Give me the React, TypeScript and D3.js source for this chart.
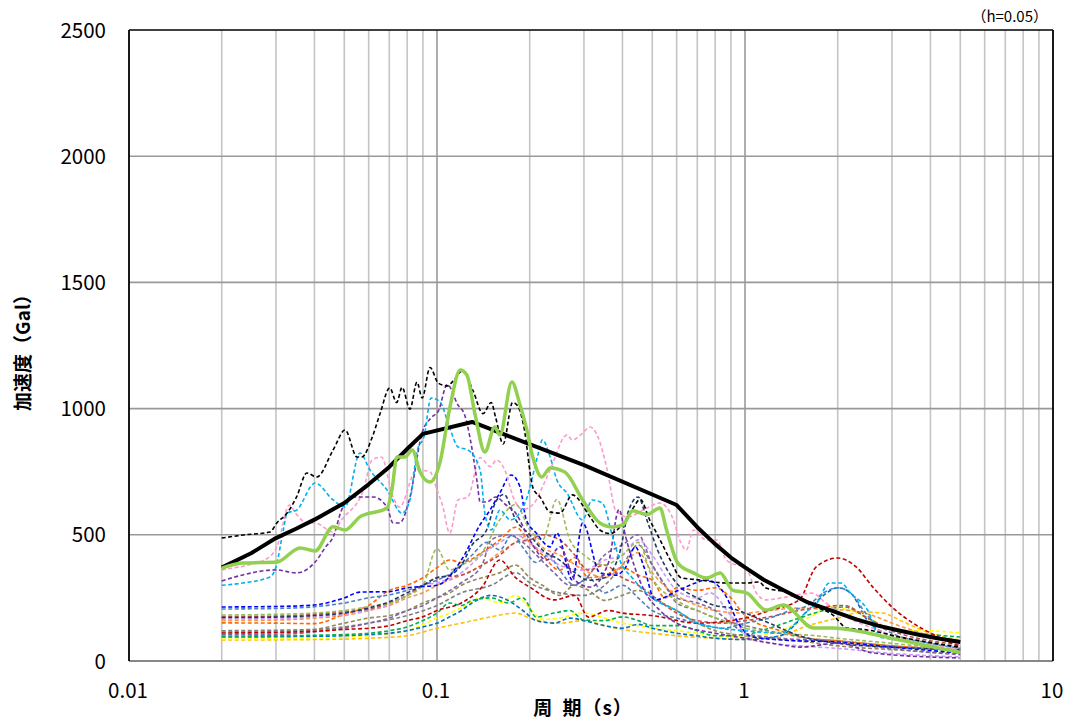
import React from 'react';
import * as d3 from 'd3';

type P = [number, number];

const X_TICKS = [0.01, 0.1, 1, 10];
const X_TICK_LABELS = ['0.01', '0.1', '1', '10'];
const Y_TICKS = [0, 500, 1000, 1500, 2000, 2500];
const X_TITLE = '周 期（s）';
const Y_TITLE = '加速度（Gal）';
const NOTE = '（h=0.05）';

// design spectrum (thick black)
const DESIGN: P[] = [
  [0.02, 370], [0.025, 428], [0.03, 487], [0.035, 525], [0.04, 560], [0.05, 626], [0.06, 700],
  [0.07, 769], [0.08, 840], [0.09, 900], [0.13, 947], [0.3, 776], [0.6, 618], [0.7, 530],
  [0.8, 463], [0.9, 410], [1.0, 371], [1.15, 322], [1.33, 281], [1.6, 232], [1.93, 198],
  [2.3, 165], [2.7, 140], [3.19, 120], [3.7, 103], [4.3, 88], [5.0, 75],
];

// thick green
const GREEN: P[] = [
  [0.02, 368], [0.0234, 388], [0.0302, 392], [0.0359, 448], [0.0402, 436], [0.046, 532],
  [0.0503, 519], [0.0562, 571], [0.0688, 606], [0.0714, 678], [0.0741, 808], [0.0787, 808],
  [0.0831, 836], [0.0881, 749], [0.0949, 709], [0.1023, 788], [0.11, 1002], [0.119, 1153],
  [0.125, 1133], [0.133, 975], [0.143, 828], [0.154, 927], [0.16, 895], [0.175, 1105],
  [0.186, 1014], [0.195, 923], [0.205, 804], [0.219, 729], [0.233, 765], [0.26, 749],
  [0.297, 638], [0.338, 547], [0.372, 531], [0.401, 539], [0.432, 595], [0.479, 580],
  [0.53, 606], [0.556, 520], [0.605, 388], [0.68, 349], [0.75, 329], [0.831, 349],
  [0.91, 281], [1.015, 269], [1.17, 202], [1.33, 222], [1.67, 131], [1.93, 131],
  [2.5, 111], [3.18, 83], [4.97, 35],
];

const BLACK_DASH: P[] = [
  [0.02, 487], [0.0234, 499], [0.0287, 511], [0.0302, 547], [0.0326, 586], [0.035, 650],
  [0.0378, 745], [0.0407, 729], [0.046, 836], [0.0503, 915], [0.055, 808], [0.057, 808],
  [0.0615, 884], [0.0654, 982], [0.0702, 1082], [0.074, 1024], [0.077, 1084], [0.0817, 998],
  [0.0861, 1105], [0.0895, 1042], [0.0949, 1163], [0.101, 1101], [0.108, 1090], [0.113, 1110],
  [0.121, 1150], [0.131, 1070], [0.141, 980], [0.15, 1024], [0.155, 965], [0.164, 860],
  [0.176, 1024], [0.183, 1010], [0.191, 935], [0.205, 686], [0.216, 650], [0.233, 590],
  [0.251, 586], [0.275, 658], [0.314, 571], [0.338, 519], [0.365, 505], [0.399, 540],
  [0.43, 600], [0.457, 640], [0.49, 560], [0.53, 480], [0.572, 400], [0.62, 330],
  [0.715, 321], [0.87, 309], [1.015, 309], [1.11, 313], [1.17, 289], [1.37, 273],
  [1.71, 214], [1.93, 182], [2.14, 131], [2.5, 123], [3.18, 95], [4.1, 71], [4.97, 55],
];

const CYAN: P[] = [
  [0.02, 300], [0.0234, 309], [0.0287, 333], [0.03, 372], [0.0317, 519], [0.0326, 586],
  [0.035, 598], [0.0402, 705], [0.046, 638], [0.0503, 610], [0.0562, 824], [0.0606, 757],
  [0.0688, 678], [0.077, 586], [0.0817, 638], [0.0861, 828], [0.091, 895], [0.0956, 1042],
  [0.1023, 1026], [0.11, 923], [0.117, 848], [0.126, 836], [0.138, 757], [0.143, 586],
  [0.15, 519], [0.16, 598], [0.173, 559], [0.195, 640], [0.213, 820], [0.22, 876],
  [0.233, 808], [0.245, 717], [0.264, 666], [0.297, 559], [0.319, 638], [0.344, 626],
  [0.372, 491], [0.392, 400], [0.43, 330], [0.5, 250], [0.6, 200], [0.7, 150], [0.83, 130],
  [1.0, 120], [1.3, 110], [1.6, 200], [1.71, 230], [1.88, 309], [2.05, 309], [2.2, 269],
  [2.5, 202], [2.74, 95], [3.18, 83], [4.1, 55], [4.97, 36],
];

const PURPLE: P[] = [
  [0.02, 317], [0.0234, 341], [0.03, 361], [0.035, 349], [0.0402, 392], [0.0435, 452],
  [0.046, 491], [0.049, 598], [0.0527, 650], [0.062, 650], [0.0688, 610], [0.072, 547],
  [0.0756, 547], [0.0817, 650], [0.0895, 905], [0.096, 965], [0.101, 990], [0.108, 1095],
  [0.117, 1014], [0.123, 975], [0.128, 884], [0.135, 709], [0.138, 630], [0.145, 630],
  [0.155, 650], [0.167, 620], [0.18, 586], [0.2, 480], [0.227, 400], [0.251, 452],
  [0.28, 321], [0.314, 293], [0.36, 388], [0.39, 600], [0.41, 491], [0.47, 281],
  [0.53, 200], [0.6, 150], [0.8, 110], [1.0, 90], [1.3, 65], [1.51, 55], [2.03, 71],
  [2.6, 32], [4.97, 12],
];

const PINK: P[] = [
  [0.02, 362], [0.025, 384], [0.028, 405], [0.0302, 452], [0.0332, 618], [0.0347, 586],
  [0.0378, 547], [0.0402, 547], [0.046, 511], [0.049, 559], [0.0577, 678], [0.0615, 796],
  [0.066, 808], [0.072, 650], [0.0756, 610], [0.0858, 757], [0.0949, 749], [0.1, 678],
  [0.104, 620], [0.11, 507], [0.117, 638], [0.126, 650], [0.138, 806], [0.149, 770],
  [0.156, 796], [0.166, 757], [0.178, 640], [0.19, 600], [0.207, 626], [0.22, 690],
  [0.233, 757], [0.264, 895], [0.275, 876], [0.297, 903], [0.314, 927], [0.333, 888],
  [0.357, 757], [0.38, 598], [0.415, 571], [0.479, 606], [0.53, 626], [0.58, 571],
  [0.62, 467], [0.645, 440], [0.68, 519], [0.75, 479], [0.81, 479], [0.87, 400],
  [1.015, 361], [1.09, 269], [1.17, 242], [1.37, 254], [1.65, 269], [1.83, 230],
  [2.03, 190], [2.6, 130], [3.5, 80], [4.97, 44],
];

const BLUE: P[] = [
  [0.02, 214], [0.03, 216], [0.04, 222], [0.05, 250], [0.0562, 273], [0.07, 275], [0.08, 290],
  [0.1, 300], [0.12, 400], [0.138, 540], [0.149, 600], [0.16, 666], [0.174, 737], [0.186, 690],
  [0.195, 559], [0.21, 507], [0.233, 452], [0.245, 507], [0.275, 321], [0.297, 547],
  [0.338, 349], [0.38, 340], [0.41, 372], [0.44, 452], [0.47, 372], [0.51, 242], [0.61, 281],
  [0.69, 309], [0.75, 321], [0.87, 254], [0.95, 151], [1.06, 95], [1.33, 83], [2.0, 75],
  [3.0, 55], [4.97, 32],
];

const STEEL: P[] = [
  [0.02, 206], [0.03, 208], [0.04, 215], [0.05, 230], [0.06, 250], [0.07, 262], [0.08, 280],
  [0.09, 300], [0.1, 320], [0.11, 345], [0.12, 380], [0.13, 420], [0.145, 470], [0.16, 440],
  [0.175, 500], [0.19, 450], [0.21, 390], [0.23, 420], [0.25, 360], [0.28, 300], [0.31, 330],
  [0.35, 270], [0.4, 300], [0.45, 250], [0.5, 200], [0.6, 170], [0.7, 150], [0.85, 130],
  [1.0, 150], [1.2, 170], [1.4, 200], [1.6, 220], [1.8, 270], [2.0, 290], [2.2, 270],
  [2.5, 180], [3.0, 110], [4.0, 70], [5.0, 50],
];

const OLIVE: P[] = [
  [0.02, 182], [0.03, 185], [0.04, 190], [0.05, 200], [0.06, 215], [0.07, 230], [0.08, 260],
  [0.09, 300], [0.1, 445], [0.11, 360], [0.12, 380], [0.14, 430], [0.16, 560], [0.18, 620],
  [0.2, 520], [0.22, 480], [0.245, 640], [0.27, 480], [0.3, 420], [0.35, 380], [0.4, 420],
  [0.45, 470], [0.5, 330], [0.6, 240], [0.7, 200], [0.85, 160], [1.0, 130], [1.3, 110],
  [1.7, 100], [2.0, 90], [3.0, 70], [5.0, 40],
];

const BRICK: P[] = [
  [0.02, 176], [0.03, 178], [0.04, 185], [0.05, 195], [0.06, 205], [0.07, 230], [0.08, 260],
  [0.09, 300], [0.1, 330], [0.12, 340], [0.14, 380], [0.16, 420], [0.18, 470], [0.2, 480],
  [0.22, 500], [0.25, 480], [0.28, 420], [0.31, 360], [0.35, 380], [0.4, 330], [0.45, 300],
  [0.5, 260], [0.6, 190], [0.7, 160], [0.85, 150], [1.0, 160], [1.2, 175], [1.5, 200],
  [1.8, 215], [2.1, 220], [2.5, 170], [3.0, 120], [4.0, 80], [5.0, 65],
];

const NAVY: P[] = [
  [0.02, 172], [0.03, 174], [0.04, 180], [0.05, 190], [0.06, 210], [0.07, 235], [0.08, 270],
  [0.09, 300], [0.1, 330], [0.11, 340], [0.12, 380], [0.13, 460], [0.145, 520], [0.155, 630],
  [0.165, 660], [0.18, 560], [0.2, 500], [0.22, 440], [0.25, 400], [0.28, 350], [0.31, 320],
  [0.35, 330], [0.39, 420], [0.42, 600], [0.45, 650], [0.48, 560], [0.52, 440], [0.56, 360],
  [0.62, 290], [0.7, 250], [0.8, 220], [0.9, 210], [1.0, 190], [1.2, 150], [1.5, 100],
  [2.0, 70], [3.0, 55], [5.0, 44],
];

const LAVENDER: P[] = [
  [0.02, 166], [0.03, 168], [0.04, 175], [0.05, 185], [0.06, 200], [0.07, 225], [0.08, 260],
  [0.09, 300], [0.1, 310], [0.12, 350], [0.14, 420], [0.16, 470], [0.18, 500], [0.2, 470],
  [0.22, 430], [0.25, 380], [0.3, 360], [0.35, 400], [0.4, 420], [0.45, 480], [0.5, 420],
  [0.55, 340], [0.6, 280], [0.7, 250], [0.77, 270], [0.9, 180], [1.06, 83], [1.5, 60],
  [2.0, 50], [3.0, 30], [5.0, 16],
];

const ORANGE: P[] = [
  [0.02, 151], [0.03, 150], [0.04, 148], [0.05, 185], [0.06, 220], [0.07, 280], [0.08, 300],
  [0.09, 330], [0.1, 370], [0.11, 400], [0.12, 390], [0.14, 430], [0.16, 480], [0.18, 530],
  [0.2, 470], [0.22, 420], [0.25, 360], [0.28, 410], [0.31, 330], [0.35, 340], [0.4, 370],
  [0.45, 340], [0.5, 320], [0.55, 250], [0.6, 290], [0.7, 280], [0.8, 290], [0.9, 250],
  [1.0, 180], [1.3, 120], [1.6, 90], [2.0, 80], [3.0, 60], [5.0, 44],
];

const LIGHT_ORANGE: P[] = [
  [0.02, 160], [0.03, 162], [0.04, 170], [0.05, 180], [0.06, 200], [0.07, 220], [0.08, 250],
  [0.09, 270], [0.1, 300], [0.12, 340], [0.14, 380], [0.16, 430], [0.18, 470], [0.2, 500],
  [0.22, 450], [0.25, 420], [0.3, 360], [0.35, 330], [0.4, 380], [0.45, 430], [0.5, 350],
  [0.6, 260], [0.7, 220], [0.8, 200], [1.0, 190], [1.2, 200], [1.5, 210], [1.8, 205],
  [2.2, 200], [2.6, 180], [3.0, 150], [4.0, 100], [5.0, 70],
];

const TAN: P[] = [
  [0.02, 115], [0.03, 117], [0.04, 125], [0.05, 150], [0.06, 170], [0.07, 180], [0.08, 200],
  [0.09, 230], [0.1, 250], [0.11, 270], [0.12, 300], [0.14, 330], [0.16, 350], [0.18, 380],
  [0.2, 330], [0.22, 300], [0.25, 260], [0.28, 300], [0.31, 280], [0.35, 240], [0.4, 260],
  [0.45, 280], [0.5, 250], [0.6, 200], [0.7, 150], [0.8, 120], [1.0, 100], [1.3, 85],
  [1.6, 75], [2.0, 60], [3.0, 45], [5.0, 30],
];

const DARK_RED: P[] = [
  [0.02, 111], [0.03, 113], [0.04, 118], [0.05, 125], [0.06, 130], [0.07, 140], [0.08, 160],
  [0.09, 175], [0.1, 200], [0.12, 230], [0.14, 293], [0.16, 400], [0.18, 330], [0.2, 293],
  [0.24, 242], [0.28, 260], [0.31, 174], [0.36, 200], [0.4, 190], [0.5, 180], [0.7, 150],
  [1.0, 170], [1.2, 200], [1.5, 242], [1.7, 372], [2.0, 408], [2.3, 372], [2.6, 293],
  [3.0, 214], [3.5, 151], [4.0, 111], [5.0, 55],
];

const GREEN2: P[] = [
  [0.02, 99], [0.03, 100], [0.04, 102], [0.05, 105], [0.06, 110], [0.07, 120], [0.08, 135],
  [0.09, 160], [0.1, 190], [0.11, 230], [0.12, 220], [0.13, 240], [0.15, 250], [0.17, 230],
  [0.19, 250], [0.21, 174], [0.24, 190], [0.27, 200], [0.3, 162], [0.35, 160], [0.4, 175],
  [0.45, 160], [0.5, 140], [0.6, 140], [0.7, 120], [0.8, 100], [1.0, 105], [1.2, 130],
  [1.5, 170], [1.8, 200], [2.1, 214], [2.5, 170], [3.0, 123], [4.0, 105], [5.0, 95],
];

const TEAL: P[] = [
  [0.02, 95], [0.03, 96], [0.04, 98], [0.05, 100], [0.06, 105], [0.07, 110], [0.08, 120],
  [0.09, 135], [0.1, 150], [0.11, 175], [0.12, 200], [0.13, 230], [0.15, 260], [0.17, 240],
  [0.19, 200], [0.21, 160], [0.24, 150], [0.27, 170], [0.3, 160], [0.35, 140], [0.4, 130],
  [0.45, 145], [0.5, 130], [0.6, 110], [0.7, 100], [0.8, 90], [1.0, 85], [1.3, 100],
  [1.6, 200], [1.8, 260], [2.0, 290], [2.2, 270], [2.5, 160], [3.0, 100], [4.0, 70], [5.0, 50],
];

const YELLOW: P[] = [
  [0.02, 87], [0.04, 90], [0.06, 100], [0.08, 120], [0.1, 170], [0.12, 210], [0.14, 250],
  [0.16, 230], [0.18, 260], [0.2, 210], [0.22, 165], [0.25, 170], [0.3, 190], [0.35, 170],
  [0.4, 150], [0.45, 140], [0.5, 130], [0.6, 120], [0.7, 110], [0.8, 100], [1.0, 95],
  [1.3, 120], [1.6, 170], [1.9, 214], [2.2, 200], [2.6, 160], [3.2, 123], [4.0, 120], [5.0, 111],
];

const GOLD: P[] = [
  [0.02, 83], [0.04, 85], [0.06, 90], [0.08, 100], [0.1, 130], [0.12, 150], [0.15, 175],
  [0.18, 190], [0.2, 170], [0.25, 150], [0.3, 160], [0.35, 140], [0.4, 125], [0.5, 110],
  [0.6, 100], [0.8, 90], [1.0, 85], [1.3, 100], [1.6, 140], [2.0, 170], [2.4, 194],
  [2.8, 190], [3.2, 160], [4.0, 110], [5.0, 83],
];

const GRAY: P[] = [
  [0.02, 120], [0.04, 125], [0.06, 150], [0.08, 180], [0.1, 220], [0.12, 270], [0.15, 300],
  [0.18, 350], [0.2, 310], [0.25, 270], [0.3, 260], [0.35, 300], [0.4, 380], [0.45, 460],
  [0.5, 380], [0.55, 300], [0.6, 230], [0.7, 200], [0.8, 170], [1.0, 140], [1.3, 110],
  [1.6, 90], [2.0, 80], [3.0, 60], [5.0, 40],
];

const MAUVE: P[] = [
  [0.02, 105], [0.03, 106], [0.04, 115], [0.05, 130], [0.06, 150], [0.07, 170], [0.08, 200],
  [0.09, 220], [0.1, 250], [0.12, 310], [0.14, 380], [0.15, 480], [0.17, 500], [0.19, 470],
  [0.21, 420], [0.24, 350], [0.27, 300], [0.3, 320], [0.35, 420], [0.4, 460], [0.45, 500],
  [0.5, 380], [0.55, 300], [0.6, 250], [0.7, 230], [0.8, 200], [0.9, 150], [1.0, 110],
  [1.3, 90], [1.8, 80], [2.5, 60], [3.5, 40], [5.0, 25],
];

const LOW_SERIES: { data: P[]; color: string }[] = [
  { data: GOLD, color: '#ffc000' },
  { data: YELLOW, color: '#ffff00' },
  { data: TEAL, color: '#0070c0' },
  { data: GREEN2, color: '#00b050' },
  { data: TAN, color: '#948a54' },
  { data: GRAY, color: '#7f7f7f' },
  { data: MAUVE, color: '#8064a2' },
  { data: ORANGE, color: '#ff6600' },
  { data: LIGHT_ORANGE, color: '#f79646' },
  { data: LAVENDER, color: '#cc99ff' },
  { data: BRICK, color: '#c0504d' },
  { data: OLIVE, color: '#9bbb59' },
  { data: STEEL, color: '#4f81bd' },
  { data: NAVY, color: '#1f3864' },
  { data: DARK_RED, color: '#c00000' },
  { data: BLUE, color: '#0000ff' },
];

const HIGH_SERIES: { data: P[]; color: string }[] = [
  { data: PINK, color: '#ff99cc' },
  { data: PURPLE, color: '#7030a0' },
  { data: CYAN, color: '#00b0f0' },
  { data: BLACK_DASH, color: '#000000' },
];

const W = 1069;
const H = 720;
const L = 129;
const R = 1053;
const T = 30;
const B = 661;
const FONT = '"Noto Sans CJK JP", "Noto Sans", sans-serif';

export default function App() {
  const x = d3.scaleLog().domain([0.01, 10]).range([L, R]);
  const y = d3.scaleLinear().domain([0, 2500]).range([B, T]);
  const line = d3
    .line<P>()
    .x((d) => x(d[0]))
    .y((d) => y(d[1]))
    .curve(d3.curveMonotoneX);
  const straight = d3
    .line<P>()
    .x((d) => x(d[0]))
    .y((d) => y(d[1]));

  const minor: number[] = [];
  [0.01, 0.1, 1].forEach((dec) => {
    for (let k = 2; k <= 9; k++) minor.push(dec * k);
  });

  return (
    <svg width={W} height={H} style={{ position: 'absolute', left: 0, top: 0, background: '#fff' }}>
      <rect x={0} y={0} width={W} height={H} fill="#fff" />
      {minor.map((v) => (
        <line key={'m' + v} x1={x(v)} x2={x(v)} y1={T} y2={B} stroke="#c4c4c4" strokeWidth={1.6} />
      ))}
      {[0.1, 1].map((v) => (
        <line key={'M' + v} x1={x(v)} x2={x(v)} y1={T} y2={B} stroke="#9a9a9a" strokeWidth={1.6} />
      ))}
      {Y_TICKS.slice(1, -1).map((v) => (
        <line key={'h' + v} x1={L} x2={R} y1={y(v)} y2={y(v)} stroke="#999999" strokeWidth={1.6} />
      ))}

      {LOW_SERIES.map((s, i) => (
        <path key={'low' + i} d={line(s.data) || ''} fill="none" stroke={s.color} strokeWidth={1.6} strokeDasharray="4 2.5" />
      ))}
      {HIGH_SERIES.map((s, i) => (
        <path key={'hi' + i} d={line(s.data) || ''} fill="none" stroke={s.color} strokeWidth={1.6} strokeDasharray="4 2.5" />
      ))}
      <path d={straight(DESIGN) || ''} fill="none" stroke="#000" strokeWidth={4} strokeLinejoin="round" />
      <path d={line(GREEN) || ''} fill="none" stroke="#92d050" strokeWidth={3.5} strokeLinejoin="round" />

      <line x1={L} x2={R} y1={B} y2={B} stroke="#878787" strokeWidth={2} />
      <line x1={L} x2={R} y1={T} y2={T} stroke="#000" strokeWidth={1.6} />
      <line x1={L} x2={L} y1={T} y2={B} stroke="#000" strokeWidth={1.8} />
      <line x1={R} x2={R} y1={T} y2={B} stroke="#000" strokeWidth={1.8} />

      {Y_TICKS.map((v) => (
        <text key={'yt' + v} x={106} y={y(v) + 7.5} textAnchor="end" fontFamily={FONT} fontSize={20.5} fill="#000">
          {v}
        </text>
      ))}
      {X_TICKS.map((v, i) => (
        <text key={'xt' + v} x={x(v) - 1} y={698} textAnchor="middle" fontFamily={FONT} fontSize={20.5} fill="#000">
          {X_TICK_LABELS[i]}
        </text>
      ))}
      <text
        x={583}
        y={715}
        textAnchor="middle"
        fontFamily={FONT}
        fontSize={19}
        fontWeight="bold"
        fill="#000"
        style={{ wordSpacing: '4px', letterSpacing: '1px' }}
      >
        {X_TITLE}
      </text>
      <text
        transform="translate(30,348) rotate(-90)"
        textAnchor="middle"
        fontFamily={FONT}
        fontSize={19}
        fontWeight="bold"
        fill="#000"
      >
        {Y_TITLE}
      </text>
      <text x={1048} y={22} textAnchor="end" fontFamily={FONT} fontSize={15} fill="#000">
        {NOTE}
      </text>
    </svg>
  );
}
